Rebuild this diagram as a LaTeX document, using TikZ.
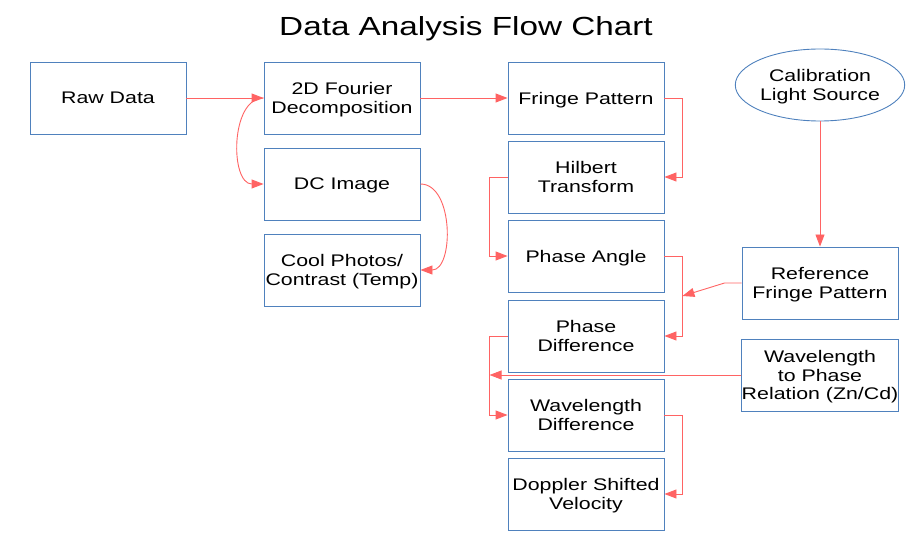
\documentclass[tikz,border=0pt]{standalone}
\usepackage{fontspec}
\setmainfont{Liberation Sans}[FakeStretch=1.27]
\usetikzlibrary{positioning,calc,shapes.geometric,arrows.meta}
\definecolor{boxblue}{RGB}{79,129,189}
\definecolor{flowred}{RGB}{255,99,99}
\tikzset{
  stage/.style={draw=boxblue,line width=0.9pt,rectangle,minimum width=156pt,minimum height=72pt,inner sep=0pt,align=center,font=\fontsize{16.8}{18.5}\selectfont,text depth=-2pt},
  source/.style={stage,ellipse,minimum width=158pt,minimum height=72pt},
  flow/.style={draw=flowred,line width=0.9pt,-{Triangle[length=12pt,width=9pt]}}
}
\begin{document}
\begin{tikzpicture}[x=1pt,y=-1pt,node distance=234pt,on grid]
\useasboundingbox (0,0) rectangle (913,537);
\node[font=\fontsize{26.2}{30}\selectfont] (title) at (466,29) {Data Analysis Flow Chart};
% left two columns
\node[stage] (raw) at (108,98) {Raw Data};
\node[stage] (fourier) [right=of raw] {2D Fourier\\Decomposition};
\node[stage] (dc) [below=86pt of fourier] {DC Image};
\node[stage] (cool) [below=86pt of dc] {Cool Photos/\\Contrast (Temp)};
% main chain
\node[stage] (fringe) [right=244pt of fourier] {Fringe Pattern};
\node[stage] (hilbert) [below=79pt of fringe] {Hilbert\\Transform};
\node[stage] (angle) [below=79pt of hilbert] {Phase Angle};
\node[stage] (diff) [below=80pt of angle] {Phase\\Difference};
\node[stage] (wavediff) [below=79pt of diff] {Wavelength\\Difference};
\node[stage] (doppler) [below=79pt of wavediff] {Doppler Shifted\\Velocity};
% calibration side
\node[source] (calib) at (820,85) {Calibration\\Light Source};
\node[stage] (reffringe) at (820,283) {Reference\\Fringe Pattern};
\node[stage] (wavephase) at (820,375) {Wavelength\\to Phase\\Relation (Zn/Cd)};
\coordinate (rbus) at ($(angle.east)!.5!(diff.east)+(18,0)$);
\coordinate (lbus) at ([xshift=-18pt]diff.west);
\draw[flow] (raw) -- (fourier);
\draw[flow] (fourier.west) to[out=180,in=180] (dc.west);
\draw[flow] (dc.east) to[out=0,in=0] (cool.east);
\draw[flow] (fourier) -- (fringe);
\draw[flow] (fringe.east) -- ++(18,0) |- (hilbert.east);
\draw[flow] (hilbert.west) -- ++(-18,0) |- (angle.west);
\draw[flow] (angle.east) -- ++(18,0) |- (diff.east);
\draw[flow] (diff.west) -- ++(-18,0) |- (wavediff.west);
\draw[flow] (wavediff.east) -- ++(18,0) |- (doppler.east);
\draw[flow] (calib) -- (reffringe);
\draw[flow] (reffringe.west) -- ++(-17,0) -- (rbus);
\draw[flow] (wavephase.west) -- (wavephase.west -| lbus);
\end{tikzpicture}
\end{document}
